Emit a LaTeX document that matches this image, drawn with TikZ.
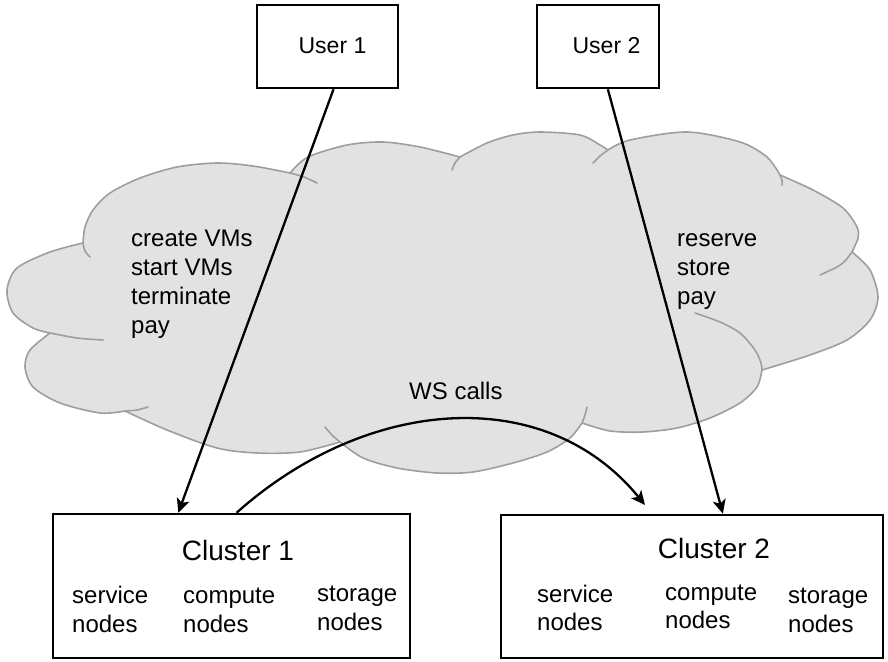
\documentclass[tikz,border=0pt]{standalone}
\usepackage{fontspec}
\setmainfont{Liberation Sans}
\usetikzlibrary{arrows.meta}
\definecolor{cloudfill}{RGB}{226,226,226}
\definecolor{cloudline}{RGB}{158,158,158}
\begin{document}
\begin{tikzpicture}[x=1pt,y=-1pt,
  box/.style={draw=black, line width=2.5pt, fill=white, inner sep=0pt},
  txt/.style={inner sep=0pt, anchor=base west, font=\fontsize{24}{29}\selectfont},
  utxt/.style={inner sep=0pt, anchor=base, font=\fontsize{23}{28}\selectfont},
  ctxt/.style={inner sep=0pt, anchor=base, font=\fontsize{28}{34}\selectfont},
  conn/.style={line width=2.3pt, -{Stealth[length=14pt,width=13pt,inset=3.5pt]}},
  cloudedge/.style={draw=cloudline, line width=1.6pt, line join=round, line cap=round},
]
\useasboundingbox (0,0) rectangle (888,661);

% cloud body
\path[fill=cloudfill, cloudedge]
  plot[smooth] coordinates {(83,243) (85,227) (93,210) (110,193) (140,178) (177,167) (217,163) (253,166) (290,173)}
  -- plot[smooth] coordinates {(290,173) (308,157) (347,145) (383,142) (420,147) (460,157)}
  -- plot[smooth] coordinates {(460,157) (487,143) (513,135) (540,132) (580,135) (600,145) (608,150)}
  -- plot[smooth] coordinates {(608,150) (630,140) (687,132) (740,142) (767,157) (780,175)}
  -- plot[smooth] coordinates {(780,175) (813,190) (843,208) (857,227) (858,238) (852,252)}
  -- plot[smooth] coordinates {(852,252) (870,270) (878,297) (870,320) (847,340) (810,355) (762,370)}
  -- plot[smooth] coordinates {(762,370) (757,387) (740,403) (710,418) (677,428) (643,432) (610,431) (582,423)}
  -- plot[smooth] coordinates {(582,423) (570,438) (547,452) (513,463) (473,472) (437,473) (397,468) (363,458) (340,442)}
  -- plot[smooth] coordinates {(340,442) (300,452) (257,453) (217,448) (167,430) (125,411)}
  -- plot[smooth] coordinates {(125,411) (100,413) (60,403) (33,387) (25,367) (30,350) (50,333)}
  -- plot[smooth] coordinates {(50,333) (33,328) (13,313) (7,290) (17,268) (50,252) (83,243)}
  -- cycle;

% inner tails of the cloud bumps
\draw[cloudedge] plot[smooth] coordinates {(83,243) (85,251) (90,257)};
\draw[cloudedge] plot[smooth] coordinates {(290,173) (304,177) (317,183)};
\draw[cloudedge] plot[smooth] coordinates {(460,157) (455,163) (452,170)};
\draw[cloudedge] plot[smooth] coordinates {(608,150) (600,156) (593,163)};
\draw[cloudedge] plot[smooth] coordinates {(780,175) (782,180) (782,185)};
\draw[cloudedge] plot[smooth] coordinates {(852,252) (845,261) (837,267) (820,275)};
\draw[cloudedge] plot[smooth] coordinates {(762,370) (761,363) (755,350) (740,333) (720,322) (695,313)};
\draw[cloudedge] plot[smooth] coordinates {(582,423) (585,415) (587,407)};
\draw[cloudedge] plot[smooth] coordinates {(340,442) (332,435) (325,427)};
\draw[cloudedge] plot[smooth] coordinates {(125,411) (137,410) (148,407)};
\draw[cloudedge] plot[smooth] coordinates {(50,333) (77,338) (103,340)};

% cloud texts
\node[txt] (l1a) at (131,246.5) {create VMs};
\node[txt] (l1b) at (131,275.5) {start VMs};
\node[txt] (l1c) at (131,304.5) {terminate};
\node[txt] (l1d) at (131,333.5) {pay};
\node[txt] (l2a) at (677,246) {reserve};
\node[txt] (l2b) at (677,275) {store};
\node[txt] (l2c) at (677,304) {pay};
\node[txt] (ws) at (409,399.5) {WS calls};

% boxes
\node[box, minimum width=141pt, minimum height=83pt] (u1) at (327.5,46.5) {};
\node[box, minimum width=122pt, minimum height=83pt] (u2) at (598,46.5) {};
\node[box, minimum width=357pt, minimum height=144pt] (c1) at (231.5,586) {};
\node[box, minimum width=382pt, minimum height=143pt] (c2) at (692,586.5) {};

\node[utxt] (u1t) at (332.5,53) {User 1};
\node[utxt] (u2t) at (606.5,53) {User 2};
\node[ctxt] (c1t) at (238,560) {Cluster 1};
\node[ctxt] (c2t) at (714,558) {Cluster 2};

\node[txt] (c1s1) at (72,603) {service};
\node[txt] (c1s2) at (72,632) {nodes};
\node[txt] (c1p1) at (183,603) {compute};
\node[txt] (c1p2) at (183,632) {nodes};
\node[txt] (c1g1) at (317,601) {storage};
\node[txt] (c1g2) at (317,630) {nodes};

\node[txt] (c2s1) at (537,602) {service};
\node[txt] (c2s2) at (537,630) {nodes};
\node[txt] (c2p1) at (665,600) {compute};
\node[txt] (c2p2) at (665,628.5) {nodes};
\node[txt] (c2g1) at (788,603.5) {storage};
\node[txt] (c2g2) at (788,632) {nodes};

% connectors
\coordinate (wsend) at (645,505);
\draw[conn] (u1.-82.5) -- (c1.126.6);
\draw[conn] (u2.-77.1) -- (c2.67.5);
\draw[conn] (c1.86.4) .. controls (366,397) and (545,382) .. (wsend);
\end{tikzpicture}
\end{document}
